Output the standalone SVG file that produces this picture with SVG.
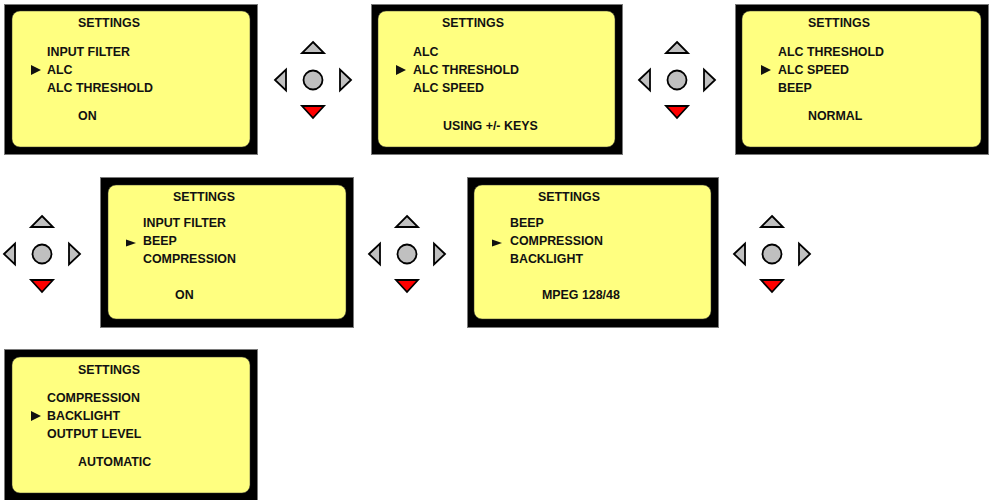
<svg xmlns="http://www.w3.org/2000/svg" xmlns:xlink="http://www.w3.org/1999/xlink" width="993" height="500" viewBox="0 0 993 500">
<style>
.frame{fill:#000;stroke:#7a7a7a;stroke-width:1}
.lcd{fill:#ffff80;stroke:#333;stroke-width:0.5}
text{font-family:"Liberation Sans",Arial,sans-serif;font-weight:bold;font-size:12.4px;fill:#111}
.ptr{fill:#111}
.key{fill:#c0c0c0;stroke:#000;stroke-width:1.8;stroke-linejoin:miter}
.keyred{fill:#ff0000;stroke:#000;stroke-width:1.8}
</style>
<defs>
<g id="pad">
<polygon class="key" points="0,-38 11,-27 -11,-27"/>
<polygon class="keyred" points="-11,26 11,26 0,38"/>
<polygon class="key" points="-38,0 -27,-10.5 -27,10.5"/>
<polygon class="key" points="38,0 27,-10.5 27,10.5"/>
<circle class="key" cx="0" cy="0" r="9.5"/>
</g>
</defs>
<rect width="993" height="500" fill="#fff"/>

<g id="screen1">
<rect class="frame" x="4.5" y="4.5" width="253" height="150"/>
<rect class="lcd" x="12" y="11" width="238" height="136" rx="8"/>
<text x="78" y="27">SETTINGS</text>
<text x="47" y="56">INPUT FILTER</text>
<polygon class="ptr" points="31,65 41,70 31,75"/>
<text x="47" y="74">ALC</text>
<text x="47" y="92">ALC THRESHOLD</text>
<text x="78" y="120">ON</text>
</g>

<g id="screen2">
<rect class="frame" x="371.5" y="4.5" width="251" height="150"/>
<rect class="lcd" x="378" y="11" width="237" height="136" rx="8"/>
<text x="442" y="27">SETTINGS</text>
<text x="413" y="56">ALC</text>
<polygon class="ptr" points="396,65 406,70 396,75"/>
<text x="413" y="74">ALC THRESHOLD</text>
<text x="413" y="92">ALC SPEED</text>
<text x="443" y="130">USING +/- KEYS</text>
</g>

<g id="screen3">
<rect class="frame" x="735.5" y="4.5" width="253" height="150"/>
<rect class="lcd" x="742" y="11" width="239" height="136" rx="8"/>
<text x="808" y="27">SETTINGS</text>
<text x="778" y="56">ALC THRESHOLD</text>
<polygon class="ptr" points="761,65 771,70 761,75"/>
<text x="778" y="74">ALC SPEED</text>
<text x="778" y="92">BEEP</text>
<text x="808" y="120">NORMAL</text>
</g>

<g id="screen4">
<rect class="frame" x="100.5" y="177.5" width="253" height="150"/>
<rect class="lcd" x="108" y="185" width="238" height="134" rx="8"/>
<text x="173" y="201">SETTINGS</text>
<text x="143" y="227">INPUT FILTER</text>
<polygon class="ptr" points="126,239.5 136,243 126,246.5"/>
<text x="143" y="245">BEEP</text>
<text x="143" y="263">COMPRESSION</text>
<text x="175" y="299">ON</text>
</g>

<g id="screen5">
<rect class="frame" x="467.5" y="177.5" width="251" height="150"/>
<rect class="lcd" x="474" y="185" width="237" height="134" rx="8"/>
<text x="538" y="201">SETTINGS</text>
<text x="510" y="227">BEEP</text>
<polygon class="ptr" points="492,239.5 502,243 492,246.5"/>
<text x="510" y="245">COMPRESSION</text>
<text x="510" y="263">BACKLIGHT</text>
<text x="542" y="299">MPEG 128/48</text>
</g>

<g id="screen6">
<rect class="frame" x="4.5" y="349.5" width="253" height="151"/>
<rect class="lcd" x="12" y="357" width="238" height="136" rx="8"/>
<text x="78" y="374">SETTINGS</text>
<text x="47" y="402">COMPRESSION</text>
<polygon class="ptr" points="31,411 41,416 31,421"/>
<text x="47" y="420">BACKLIGHT</text>
<text x="47" y="438">OUTPUT LEVEL</text>
<text x="78" y="466">AUTOMATIC</text>
</g>

<g id="pad1"><use xlink:href="#pad" x="313" y="80"/></g>
<g id="pad2"><use xlink:href="#pad" x="677" y="80"/></g>
<g id="pad3"><use xlink:href="#pad" x="42" y="254"/></g>
<g id="pad4"><use xlink:href="#pad" x="407" y="254"/></g>
<g id="pad5"><use xlink:href="#pad" x="772" y="254"/></g>

<g id="connectors"></g>
</svg>
